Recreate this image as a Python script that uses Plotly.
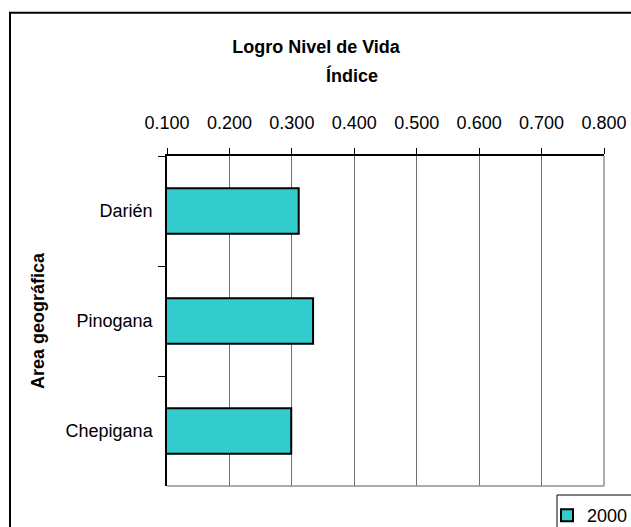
import plotly.graph_objects as go

categories = ["Darién", "Pinogana", "Chepigana"]
values_2000 = [0.311, 0.334, 0.299]
series_name = "2000"
tick_vals = [0.1, 0.2, 0.3, 0.4, 0.5, 0.6, 0.7, 0.8]

FONT = "Liberation Sans, Arial, sans-serif"
W, H = 631, 527
ML, MR, MT, MB = 167, 27, 156, 41
PW, PH = W - ML - MR, H - MT - MB

def px_x(p):
    return (p - ML) / PW

def px_y(p):
    return (H - MB - p) / PH

fig = go.Figure()
fig.add_trace(go.Bar(
    y=categories, x=values_2000, orientation="h", name=series_name,
    marker=dict(color="#33CCCC", line=dict(color="black", width=2)),
    showlegend=True,
))

fig.update_layout(
    width=W, height=H,
    margin=dict(l=ML, r=MR, t=MT, b=MB, autoexpand=False),
    paper_bgcolor="white", plot_bgcolor="white",
    font=dict(family=FONT, size=18, color="black"),
    bargap=0.586,
    title=dict(text="<b>Logro Nivel de Vida</b>", x=316 / W, xref="container",
               xanchor="center", y=1 - 47 / H, yref="container", yanchor="middle",
               font=dict(family=FONT, size=18, color="black")),
    xaxis=dict(side="top", range=[0.1, 0.8], tickvals=tick_vals, tickformat=".3f",
               showgrid=True, gridcolor="#707070", gridwidth=1,
               showline=True, linecolor="black", linewidth=1.5,
               ticks="outside", ticklen=6, tickcolor="black", tickwidth=1,
               ticklabelstandoff=12, zeroline=False,
               tickfont=dict(family=FONT, size=18)),
    yaxis=dict(autorange="reversed", tickson="boundaries",
               showline=True, linecolor="black", linewidth=1.5,
               ticks="outside", ticklen=7, tickcolor="black", tickwidth=1,
               showgrid=False, ticklabelstandoff=9,
               title=dict(text="<b>Area geográfica</b>", standoff=16,
                          font=dict(family=FONT, size=18)),
               tickfont=dict(family=FONT, size=18)),
    legend=dict(x=px_x(547), y=px_y(497), xanchor="left", yanchor="top",
                bgcolor="rgba(0,0,0,0)", borderwidth=0,
                font=dict(family=FONT, size=18)),
    annotations=[dict(text="<b>Índice</b>", x=px_x(352), y=px_y(75),
                      xref="paper", yref="paper", xanchor="center", yanchor="middle",
                      showarrow=False, font=dict(family=FONT, size=18))],
    shapes=[
        dict(type="rect", xref="paper", yref="paper", x0=px_x(10), x1=1.3,
             y0=-0.4, y1=px_y(12.8), line=dict(color="black", width=2), layer="below"),
        dict(type="line", xref="paper", yref="paper", x0=0, x1=1, y0=0, y1=0,
             line=dict(color="#909090", width=1.5)),
        dict(type="line", xref="paper", yref="paper", x0=1, x1=1, y0=0, y1=1,
             line=dict(color="#909090", width=1.5)),
        dict(type="rect", xref="paper", yref="paper", x0=px_x(557), x1=1.3,
             y0=-0.4, y1=px_y(495), line=dict(color="black", width=1)),
    ],
)

fig.write_html("out.html", config={"displayModeBar": False},
               post_script="document.body.style.margin='0px';")
